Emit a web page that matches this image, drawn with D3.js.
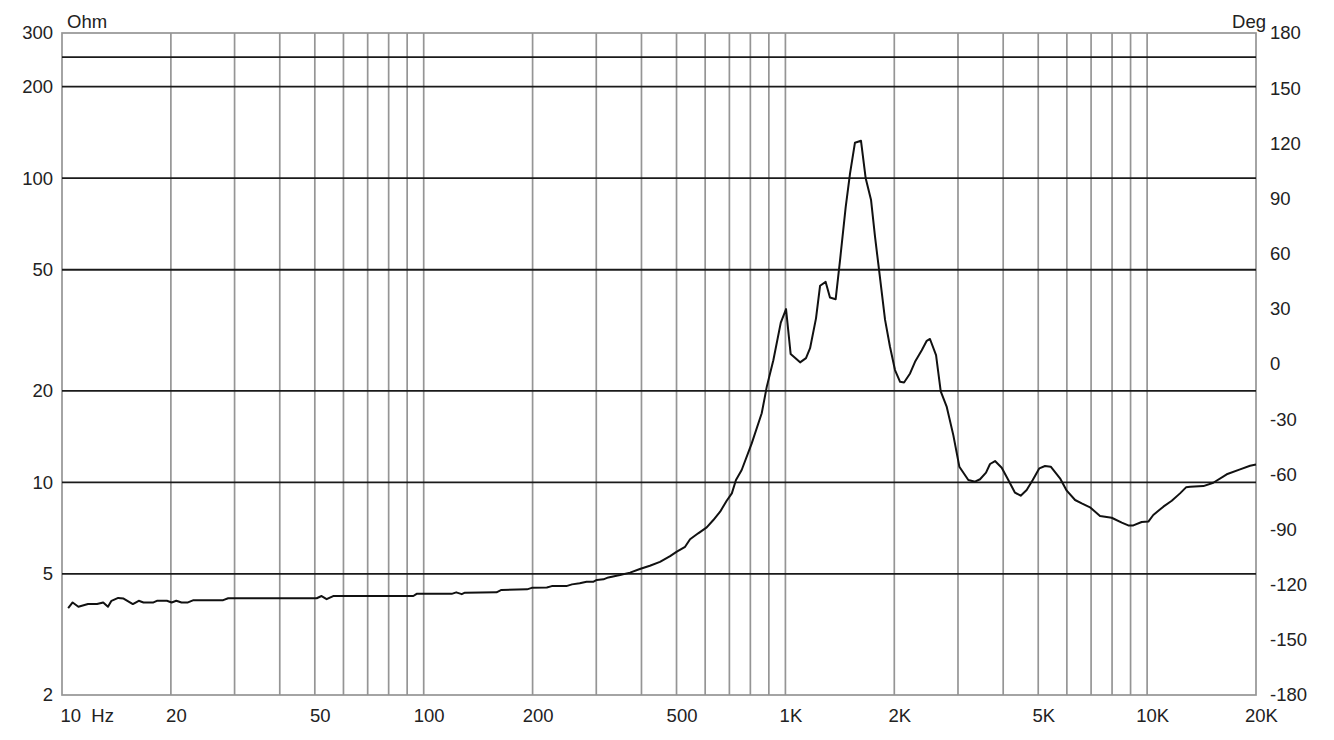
<!DOCTYPE html>
<html><head><meta charset="utf-8">
<script src="https://cdn.jsdelivr.net/npm/d3@7"></script>
<style>
body{margin:0;background:#fff;}
svg text{font-family:"Liberation Sans",Arial,sans-serif;fill:#222;}
</style></head>
<body><svg id="chart" width="1334" height="740"></svg>
<script>
const freqs = [10.4,10.7,11.1,11.8,12.5,13.0,13.4,13.7,14.3,14.8,15.7,16.3,16.8,17.9,18.3,19.5,20.1,20.7,21.4,22.3,23.1,27.9,28.8,50.6,52.2,53.9,56.2,93.6,95.6,111,119.5,123,127.4,130,159,164,193,199,219,226,248,257,270,282,294,301,314,324,349,372,396,422,450,480,501,528,545,574,606,632,660,688,711,730,757,807,860,888,926,971,1004,1034,1098,1140,1170,1215,1247,1292,1328,1377,1416,1468,1509,1557,1618,1667,1725,1769,1815,1886,1946,2009,2075,2128,2211,2282,2382,2459,2510,2609,2688,2793,2912,3026,3204,3343,3452,3586,3679,3798,3963,4133,4313,4472,4645,4828,5036,5221,5414,5744,5995,6322,6595,6953,7410,7980,8510,8870,9160,9660,10080,10400,11090,11700,12330,12810,13150,14310,15240,16600,18070,19260,20000];
const impedance = [3.86,4.03,3.90,3.98,3.98,4.03,3.90,4.08,4.17,4.15,3.98,4.08,4.03,4.03,4.08,4.08,4.03,4.08,4.03,4.03,4.10,4.10,4.16,4.16,4.23,4.13,4.23,4.23,4.30,4.30,4.30,4.35,4.29,4.34,4.35,4.43,4.45,4.50,4.51,4.56,4.56,4.62,4.66,4.71,4.71,4.78,4.80,4.87,4.96,5.05,5.19,5.32,5.48,5.72,5.92,6.14,6.50,6.80,7.11,7.52,8.01,8.70,9.20,10.18,10.98,13.43,16.87,20.6,25.2,33.5,37.1,26.4,24.8,25.6,27.6,34.6,44.3,45.6,40.5,40.0,53.8,80.5,103.7,130.8,132.7,99.9,84.7,64.2,49.9,34.2,27.9,23.4,21.4,21.3,22.8,24.9,27.2,29.2,29.6,26.2,19.9,17.7,14.3,11.26,10.18,10.05,10.24,10.76,11.49,11.75,11.17,10.18,9.25,9.04,9.44,10.18,11.12,11.32,11.26,10.31,9.39,8.75,8.53,8.28,7.75,7.65,7.37,7.22,7.22,7.41,7.43,7.81,8.32,8.70,9.20,9.63,9.67,9.72,9.97,10.63,11.03,11.34,11.45];

const xGrid = [20,30,40,50,60,70,80,90,100,200,300,400,500,600,700,800,900,1000,2000,3000,4000,5000,6000,7000,8000,9000,10000];
const xTickValues = [10,20,50,100,200,500,1000,2000,5000,10000,20000];
const xTickLabels = ["10  Hz","20","50","100","200","500","1K","2K","5K","10K","20K"];
const yGrid = [5,10,20,50,100,200,250];
const yTickValues = [2,5,10,20,50,100,200,300];
const degTicks = [-180,-150,-120,-90,-60,-30,0,30,60,90,120,150,180];

const L=62,R=1256,T=33,B=695;
const FONT = "Liberation Sans, Arial, sans-serif";
const svg = d3.select("#chart");
const x = d3.scaleLog().domain([10,20000]).range([L,R]);
const y = d3.scaleLog().domain([2,300]).range([B,T]);
const yd = d3.scaleLinear().domain([-180,180]).range([B,T]);

// vertical grid
svg.append("g").selectAll("line").data(xGrid).join("line")
  .attr("x1",d=>x(d)).attr("x2",d=>x(d)).attr("y1",T).attr("y2",B)
  .attr("stroke","#959595").attr("stroke-width",1.7);
// frame
svg.append("rect").attr("x",L).attr("y",T).attr("width",R-L).attr("height",B-T)
  .attr("fill","none").attr("stroke","#959595").attr("stroke-width",1.7);
// horizontal grid
svg.append("g").selectAll("line").data(yGrid).join("line")
  .attr("x1",L).attr("x2",R).attr("y1",d=>y(d)).attr("y2",d=>y(d))
  .attr("stroke","#1a1a1a").attr("stroke-width",1.8);

// left axis labels
const leftAxis = d3.axisLeft(y).tickValues(yTickValues).tickFormat(d=>String(d)).tickSize(0).tickPadding(9);
const gl = svg.append("g").attr("transform",`translate(${L},0)`).call(leftAxis);
gl.select(".domain").remove();
gl.selectAll("text").attr("font-size",18.5).attr("fill","#222").attr("font-family",FONT);

// right axis labels
const rightAxis = d3.axisRight(yd).tickValues(degTicks).tickFormat(d=>String(d)).tickSize(0).tickPadding(14);
const gr = svg.append("g").attr("transform",`translate(${R},0)`).call(rightAxis);
gr.select(".domain").remove();
gr.selectAll("text").attr("font-size",18.5).attr("fill","#222").attr("font-family",FONT);

// bottom axis labels
const bottomAxis = d3.axisBottom(x).tickValues(xTickValues).tickFormat((d,i)=>xTickLabels[i]).tickSize(0).tickPadding(14);
const gb = svg.append("g").attr("transform",`translate(0,${B})`).call(bottomAxis);
gb.select(".domain").remove();
gb.selectAll("text").attr("font-size",18.5).attr("fill","#222").attr("font-family",FONT)
  .attr("text-anchor",(d,i)=>i===0?"start":"middle")
  .attr("x",(d,i)=>i===0?-2:5)
  .attr("xml:space","preserve").style("white-space","pre");

// unit labels
svg.append("text").attr("x",67).attr("y",28).attr("font-size",18.5).attr("font-family",FONT).text("Ohm");
svg.append("text").attr("x",1266).attr("y",28).attr("font-size",18.5).attr("font-family",FONT).attr("text-anchor","end").text("Deg");

// curve
const pts = freqs.map((f,i)=>[f,impedance[i]]);
svg.append("path").datum(pts)
  .attr("fill","none").attr("stroke","#111").attr("stroke-width",2).attr("stroke-linejoin","round")
  .attr("d", d3.line().x(d=>x(d[0])).y(d=>y(d[1])));
</script></body></html>
